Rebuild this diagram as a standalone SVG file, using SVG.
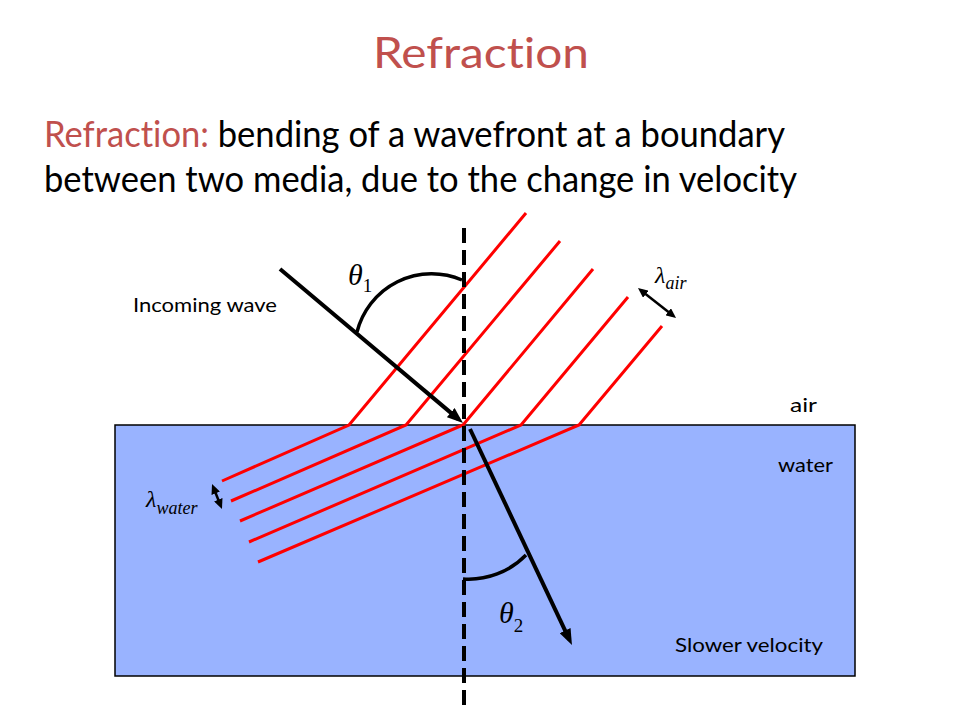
<svg xmlns="http://www.w3.org/2000/svg" width="960" height="720" viewBox="0 0 960 720">
  <style>
    .sans { font-family: Lato, "Open Sans", "Liberation Sans", sans-serif; font-variant-ligatures: none; }
    .math { font-family: "Liberation Serif", "DejaVu Serif", serif; font-style: italic; fill: #000; }
    .sub { font-family: "Liberation Serif", "DejaVu Serif", serif; font-style: normal; }
    .red { fill: #C0504D; }
    .wave { fill: none; stroke: #FF0000; stroke-width: 3; stroke-linejoin: miter; }
    .ray { stroke: #000; stroke-width: 4; fill: none; }
    .thin { stroke: #000; stroke-width: 2.5; fill: none; }
    .arc { stroke: #000; stroke-width: 3.5; fill: none; }
    .label { font-size: 20px; fill: #000; }
  </style>
  <defs>
    <marker id="head" viewBox="0 0 16 12" markerWidth="16" markerHeight="12" refX="10" refY="6" orient="auto" markerUnits="userSpaceOnUse">
      <path d="M0,0 L16,6 L0,12 z" fill="#000"/>
    </marker>
    <marker id="small" viewBox="0 0 10 9" markerWidth="10" markerHeight="9" refX="6" refY="4.5" orient="auto-start-reverse" markerUnits="userSpaceOnUse">
      <path d="M0,0 L10,4.5 L0,9 z" fill="#000"/>
    </marker>
  </defs>
  <rect width="960" height="720" fill="#fff"/>

  <g id="title">
    <text class="sans red" x="481" y="68" font-size="43" text-anchor="middle" textLength="216" lengthAdjust="spacingAndGlyphs">Refraction</text>
  </g>

  <g id="definition" class="sans" font-size="37">
    <text x="44" y="147" textLength="741" lengthAdjust="spacingAndGlyphs"><tspan fill="#C0504D">Refraction:</tspan><tspan fill="#000"> bending of a wavefront at a boundary</tspan></text>
    <text x="44" y="192" fill="#000" textLength="753" lengthAdjust="spacingAndGlyphs">between two media, due to the change in velocity</text>
  </g>

  <g id="water">
    <rect x="115" y="425" width="740" height="251" fill="#99B3FF" stroke="#000" stroke-width="1.5"/>
  </g>

  <g id="wavefronts">
    <polyline class="wave" points="222,481 349,425 526,213"/>
    <polyline class="wave" points="231,501 406,425 560,241"/>
    <polyline class="wave" points="240,521 463,425 593,269"/>
    <polyline class="wave" points="249,542 521,425 628,297"/>
    <polyline class="wave" points="258,562 579,425 662,326"/>
  </g>

  <g id="normal">
    <line x1="464" y1="228" x2="464" y2="708" stroke="#000" stroke-width="4" stroke-dasharray="15 7"/>
  </g>

  <g id="connectors">
    <line id="incoming-ray" class="ray" x1="280" y1="269" x2="458.4" y2="419.1" marker-end="url(#head)"/>
    <line id="refracted-ray" class="ray" x1="470" y1="429" x2="569.4" y2="639.6" marker-end="url(#head)"/>
    <line id="lambda-air-arrow" class="thin" x1="641.1" y1="290.5" x2="672.9" y2="315.5" marker-start="url(#small)" marker-end="url(#small)"/>
    <line id="lambda-water-arrow" class="thin" x1="213.5" y1="487.7" x2="220.5" y2="505.3" marker-start="url(#small)" marker-end="url(#small)"/>
  </g>

  <g id="angles">
    <path class="arc" d="M357,332 A77,77 0 0 1 462,280"/>
    <path class="arc" d="M463,579 A80,80 0 0 0 526,555"/>
  </g>

  <g id="math-labels">
    <text class="math" x="348" y="285" font-size="30">θ<tspan class="sub" font-size="19" dy="7">1</tspan></text>
    <text class="math" x="499" y="623" font-size="30">θ<tspan class="sub" font-size="19" dy="9">2</tspan></text>
    <text class="math" x="655" y="283" font-size="24">λ<tspan font-size="18" dy="6">air</tspan></text>
    <text class="math" x="146" y="507" font-size="24">λ<tspan font-size="18" dy="7">water</tspan></text>
  </g>

  <g id="text-labels" class="sans label">
    <text x="133" y="312" textLength="144" lengthAdjust="spacingAndGlyphs">Incoming wave</text>
    <text x="790" y="412" textLength="27" lengthAdjust="spacingAndGlyphs">air</text>
    <text x="778" y="472" textLength="55" lengthAdjust="spacingAndGlyphs">water</text>
    <text x="675" y="652" textLength="148" lengthAdjust="spacingAndGlyphs">Slower velocity</text>
  </g>
</svg>
